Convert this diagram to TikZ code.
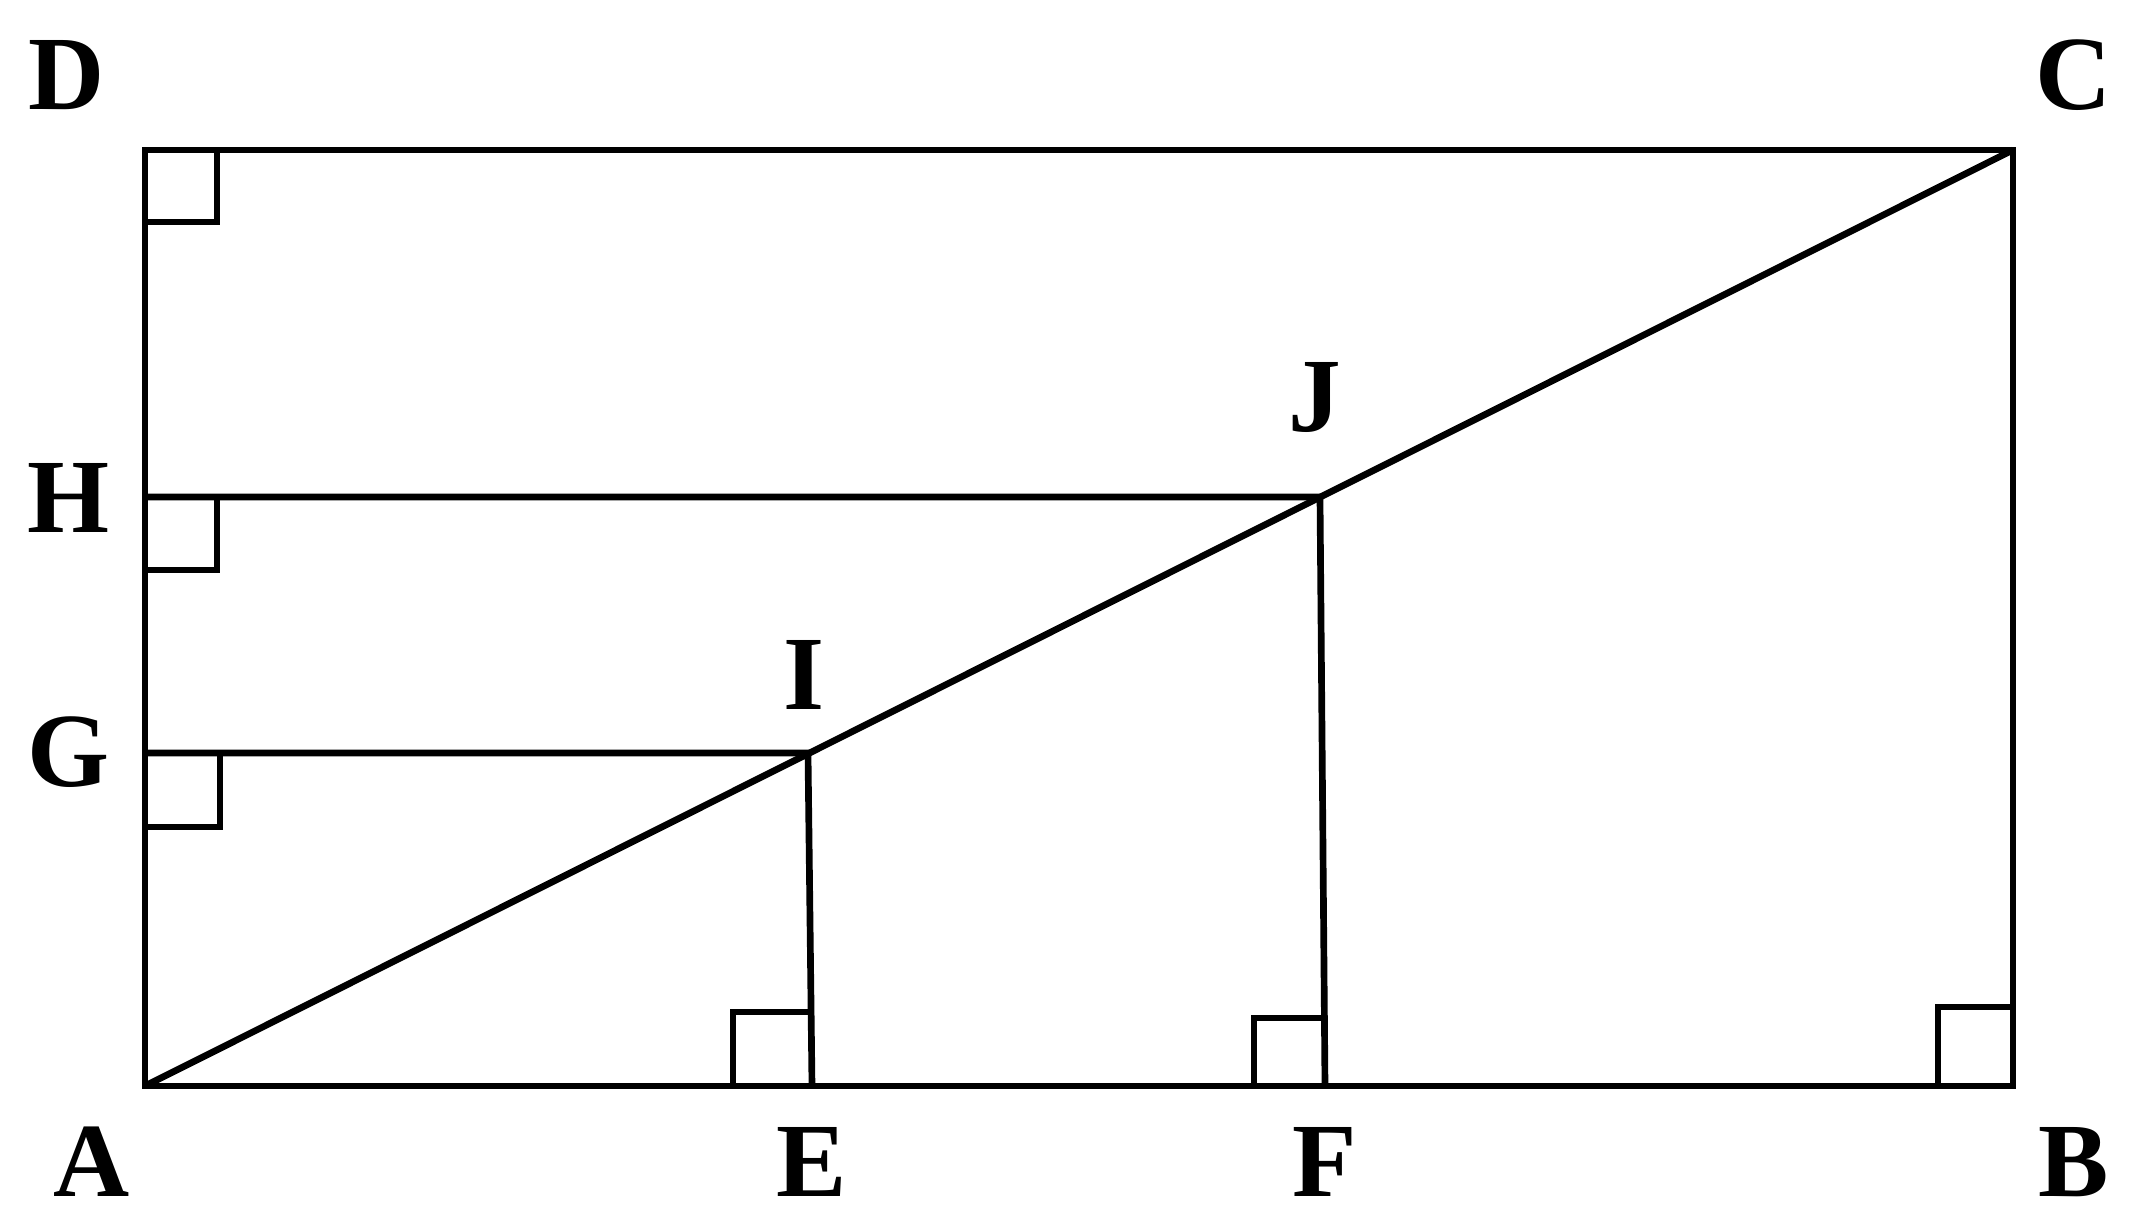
\documentclass[tikz,border=0pt]{standalone}
\usepackage{fontspec}
\setmainfont{Liberation Serif}[BoldFont={Liberation Serif Bold}]
\usetikzlibrary{calc}
\begin{document}
\begin{tikzpicture}[x=1cm,y=1cm,
  edge/.style={line width=1.9pt, line join=miter},
  ra/.style={line width=1.9pt},
  lbl/.style={anchor=base, inner sep=0pt, font=\fontsize{30}{36}\selectfont\bfseries}]
\useasboundingbox (0,0) rectangle (21.35,12.30);
% points
\coordinate (A) at (1.45,1.44);
\coordinate (B) at (20.13,1.44);
\coordinate (C) at (20.13,10.80);
\coordinate (D) at (1.45,10.80);
\coordinate (G) at (1.45,4.77);
\coordinate (H) at (1.45,7.33);
\coordinate (I) at (8.08,4.77);
\coordinate (J) at (13.20,7.33);
\coordinate (E) at (8.12,1.44);
\coordinate (F) at (13.25,1.44);
% rectangle and diagonal
\draw[edge] (A) -- (B) -- (C) -- (D) -- cycle;
\draw[edge] (A) -- (C);
\draw[edge] (G) -- (I) -- (E);
\draw[edge] (H) -- (J) -- (F);
% right-angle marks
\draw[ra] ($(D)+(0,-0.72)$) -- ++(0.72,0) -- ++(0,0.72);
\draw[ra] ($(H)+(0,-0.73)$) -- ++(0.72,0) -- ++(0,0.73);
\draw[ra] ($(G)+(0,-0.74)$) -- ++(0.75,0) -- ++(0,0.74);
\draw[ra] ($(E)+(-0.79,0)$) -- ++(0,0.74) -- ++(0.78,0);
\draw[ra] ($(F)+(-0.71,0)$) -- ++(0,0.68) -- ++(0.71,0);
\draw[ra] ($(B)+(-0.75,0)$) -- ++(0,0.79) -- ++(0.75,0);
% labels
\node[lbl] (lD) at (0.67,11.20) {D};
\node[lbl] (lC) at (20.74,11.20) {C};
\node[lbl] (lA) at (0.92,0.33) {A};
\node[lbl] (lB) at (20.74,0.33) {B};
\node[lbl] (lE) at (8.12,0.33) {E};
\node[lbl] (lF) at (13.25,0.33) {F};
\node[lbl] (lH) at (0.69,6.97) {H};
\node[lbl] (lG) at (0.69,4.43) {G};
\node[lbl] (lI) at (8.04,5.20) {I};
\node[lbl] (lJ) at (13.15,7.98) {J};
\end{tikzpicture}
\end{document}
